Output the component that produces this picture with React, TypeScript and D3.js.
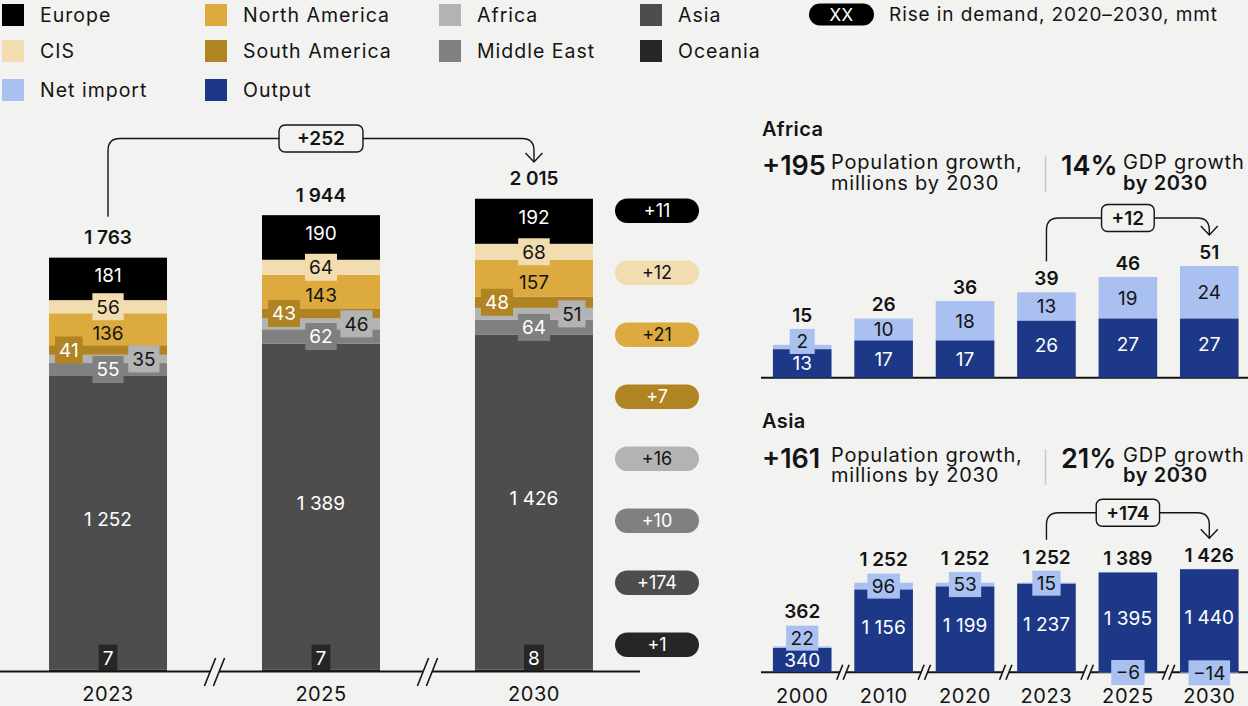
import React from 'react';
import * as d3 from 'd3';

const W = 1248;
const H = 706;
const FONT = "Inter, 'Open Sans', sans-serif";
const BG = '#f2f2f0';
const INK = '#141414';

// ---- Global demand by region (mmt) ----
const years = ['2023', '2025', '2030'];
const europe = [181, 190, 192];
const cis = [56, 64, 68];
const northAmerica = [136, 143, 157];
const southAmerica = [41, 43, 48];
const africa = [35, 46, 51];
const middleEast = [55, 62, 64];
const asia = [1252, 1389, 1426];
const oceania = [7, 7, 8];
const totals = [1763, 1944, 2015];
const totalRise = '+252';

// rise in demand per region, Europe → Oceania
const riseLabels = ['+11', '+12', '+21', '+7', '+16', '+10', '+174', '+1'];

// ---- Regional balance: output and net import (mmt) ----
const panelYears = ['2000', '2010', '2020', '2023', '2025', '2030'];
const africaOutput = [13, 17, 17, 26, 27, 27];
const africaImport = [2, 10, 18, 13, 19, 24];
const africaTotals = [15, 26, 36, 39, 46, 51];
const africaRise = '+12';
const africaPop = '+195';
const africaGdp = '14%';

const asiaOutput = [340, 1156, 1199, 1237, 1395, 1440];
const asiaImport = [22, 96, 53, 15, -6, -14];
const asiaTotals = [362, 1252, 1252, 1252, 1389, 1426];
const asiaRise = '+174';
const asiaPop = '+161';
const asiaGdp = '21%';

const regionKeys = ['Oceania', 'Asia', 'Middle East', 'Africa', 'South America', 'North America', 'CIS', 'Europe'];

const COLORS: Record<string, string> = {
  Europe: '#000000',
  CIS: '#f2ddb1',
  'North America': '#dcaa3e',
  'South America': '#b18423',
  Africa: '#b3b3b3',
  'Middle East': '#808080',
  Asia: '#4d4d4d',
  Oceania: '#262626',
  'Net import': '#a9c0f1',
  Output: '#1e3888',
};

// how each segment value is shown inside the stacked bar
const LABEL_STYLE: Record<string, { mode: string; color: string; dy?: number }> = {
  Europe: { mode: 'text', color: '#fff', dy: -4 },
  CIS: { mode: 'center', color: INK },
  'North America': { mode: 'text', color: INK, dy: 3.5 },
  'South America': { mode: 'left', color: '#fff' },
  Africa: { mode: 'right', color: INK },
  'Middle East': { mode: 'center', color: '#fff' },
  Asia: { mode: 'text', color: '#fff', dy: -4 },
  Oceania: { mode: 'bottom', color: '#fff' },
};

const pillOrder = ['Europe', 'CIS', 'North America', 'South America', 'Africa', 'Middle East', 'Asia', 'Oceania'];
const darkText = new Set(['Europe', 'South America', 'Middle East', 'Asia', 'Oceania']);

const fmt = d3.formatLocale({ decimal: '.', thousands: ' ', grouping: [3], currency: ['', ''] }).format(',');

const measureCtx = typeof document !== 'undefined' ? document.createElement('canvas').getContext('2d') : null;
function measure(s: string, size: number, weight = 400) {
  if (!measureCtx) return s.length * size * 0.6;
  measureCtx.font = `${weight} ${size}px ${FONT}`;
  return measureCtx.measureText(s).width;
}

function T({ x, y, children, size = 19, weight = 400, fill = INK, anchor = 'middle', ls = 0 }: any) {
  return (
    <text
      x={x}
      y={y}
      dy="0.36em"
      fontSize={size}
      fontWeight={weight}
      fill={fill}
      textAnchor={anchor}
      fontFamily={FONT}
      letterSpacing={ls || undefined}
    >
      {children}
    </text>
  );
}

// two-line caption drawn as a single text block
function Caption({ x, y, line1, line2, w2 = 400 }: any) {
  return (
    <text x={x} y={y} dy="0.36em" fontSize={20} fill={INK} fontFamily={FONT} letterSpacing={0.8}>
      <tspan x={x}>{line1}</tspan>
      <tspan x={x} dy={20.5} fontWeight={w2} letterSpacing={w2 > 400 ? 0.6 : 0.8}>{line2}</tspan>
    </text>
  );
}

function connectorPath(x1: number, y1: number, x2: number, y2: number, yTop: number, r = 12) {
  return `M${x1},${y1} V${yTop + r} Q${x1},${yTop} ${x1 + r},${yTop} H${x2 - r} Q${x2},${yTop} ${x2},${yTop + r} V${y2}`;
}

function Connector({ x1, y1, x2, y2, yTop, label, pad }: any) {
  const tw = measure(label, 19, 600);
  const pw = tw + pad * 2;
  const cx = (x1 + x2) / 2;
  return (
    <g>
      <path d={connectorPath(x1, y1, x2, y2, yTop)} fill="none" stroke={INK} strokeWidth={1.4} />
      <path d={`M${x2 - 8.5},${y2 - 9} L${x2},${y2} L${x2 + 8.5},${y2 - 9}`} fill="none" stroke={INK} strokeWidth={1.4} />
      <rect x={cx - pw / 2} y={yTop - 13.5} width={pw} height={27} rx={6} fill={BG} stroke={INK} strokeWidth={1.4} />
      <T x={cx} y={yTop} weight={600}>{label}</T>
    </g>
  );
}

function BreakMark({ x, y, h, gap }: any) {
  const s = h * 0.2;
  return (
    <g>
      <polygon
        points={`${x - gap - s},${y + h / 2} ${x - gap + s},${y - h / 2} ${x + gap + s},${y - h / 2} ${x + gap - s},${y + h / 2}`}
        fill={BG}
      />
      <line x1={x - gap - s} y1={y + h / 2} x2={x - gap + s} y2={y - h / 2} stroke={INK} strokeWidth={1.6} />
      <line x1={x + gap - s} y1={y + h / 2} x2={x + gap + s} y2={y - h / 2} stroke={INK} strokeWidth={1.6} />
    </g>
  );
}

function Panel({ titleY, title, pop, gdp, output, imports, totalsArr, yScale, baseY, rise, riseY, showAxis }: any) {
  const x = d3.scaleBand<string>().domain(panelYears).range([761.5, 1250]).paddingInner(0.28).paddingOuter(0.14);
  const bw = x.bandwidth();
  const y0 = yScale(0);
  const labelTops: number[] = [];
  const bars = panelYears.map((yr, i) => {
    const xb = x(yr)!;
    const cx = xb + bw / 2;
    const out = output[i];
    const imp = imports[i];
    const outTop = yScale(out);
    const impA = imp >= 0 ? out : 0;
    const impB = imp >= 0 ? out + imp : imp;
    const iy1 = yScale(Math.max(impA, impB));
    const iy2 = yScale(Math.min(impA, impB));
    const segH = y0 - outTop;
    const outY = (outTop + y0) / 2 - (segH > 50 ? 4 : 0);
    const impMid = (iy1 + iy2) / 2;
    const impStr = fmt(imp);
    const boxed = iy2 - iy1 < 20;
    const boxH = 25;
    const boxW = Math.max(measure(impStr, 19) + 9, 25);
    const boxCy = boxed && imp > 0 ? Math.min(impMid, outY - 22) : impMid;
    const barTop = Math.min(outTop, iy1);
    const top = boxed ? Math.min(barTop, boxCy - boxH / 2) : barTop;
    const totalY = top - 14;
    labelTops.push(totalY);
    return (
      <g key={yr}>
        <rect x={xb} y={iy1} width={bw} height={Math.max(iy2 - iy1, 0.01)} fill={COLORS['Net import']} />
        <rect x={xb} y={outTop} width={bw} height={y0 - outTop} fill={COLORS.Output} />
        <T x={cx} y={outY} fill="#fff">{fmt(out)}</T>
        {boxed ? (
          <g>
            <rect x={cx - boxW / 2} y={boxCy - boxH / 2} width={boxW} height={boxH} fill={COLORS['Net import']} />
            <T x={cx} y={boxCy}>{impStr}</T>
          </g>
        ) : (
          <T x={cx} y={impMid}>{impStr}</T>
        )}
        <T x={cx} y={totalY} weight={600}>{fmt(totalsArr[i])}</T>
        {showAxis && <T x={cx} y={baseY + 23} size={20} ls={0.6}>{yr}</T>}
      </g>
    );
  });
  const breaks = showAxis
    ? panelYears.slice(1).map((yr, i) => {
        const xa = x(panelYears[i])! + bw;
        const xb = x(yr)!;
        return <BreakMark key={yr} x={(xa + xb) / 2} y={baseY} h={15} gap={3.2} />;
      })
    : null;
  const c1 = x('2023')! + bw / 2;
  const c2 = x('2030')! + bw / 2;
  return (
    <g>
      <T x={762} y={titleY} anchor="start" size={20} weight={600} ls={0.4}>{title}</T>
      <T x={762} y={titleY + 37} anchor="start" size={27} weight={600}>{pop}</T>
      <Caption x={831} y={titleY + 33.5} line1="Population growth," line2="millions by 2030" />
      <line x1={1045.5} x2={1045.5} y1={titleY + 28} y2={titleY + 64} stroke="#c9c9c9" strokeWidth={1.5} />
      <T x={1061} y={titleY + 37} anchor="start" size={27} weight={600}>{gdp}</T>
      <Caption x={1123} y={titleY + 33.5} line1="GDP growth" line2="by 2030" w2={600} />
      <line x1={761} x2={1248} y1={baseY} y2={baseY} stroke={INK} strokeWidth={2} />
      {bars}
      {breaks}
      <Connector x1={c1} y1={labelTops[3] - 17} x2={c2} y2={labelTops[5] - 17} yTop={riseY} label={rise} pad={10} />
    </g>
  );
}

export default function App() {
  const rows = years.map((yr, i) => ({
    year: yr,
    Oceania: oceania[i],
    Asia: asia[i],
    'Middle East': middleEast[i],
    Africa: africa[i],
    'South America': southAmerica[i],
    'North America': northAmerica[i],
    CIS: cis[i],
    Europe: europe[i],
  }));
  const series = d3.stack<any>().keys(regionKeys)(rows);
  const xL = d3.scaleBand<string>().domain(years).range([1, 641]).paddingInner(0.446).paddingOuter(0.2255);
  const yL = d3.scaleLinear().domain([0, 2015]).range([671.5, 198.5]);
  const bw = xL.bandwidth();

  const segments: any[] = [];
  const labels: any[] = [];
  series.forEach((s) => {
    const key = s.key;
    s.forEach((d, i) => {
      const yr = years[i];
      const xb = xL(yr)!;
      const yt = yL(d[1]);
      const yb = yL(d[0]);
      segments.push(<rect key={key + yr} x={xb} y={yt} width={bw} height={yb - yt} fill={COLORS[key]} />);
      const v = d[1] - d[0];
      const str = fmt(v);
      const st = LABEL_STYLE[key];
      const cx = xb + bw / 2;
      const mid = (yt + yb) / 2;
      if (st.mode === 'text') {
        labels.push(<T key={'l' + key + yr} x={cx} y={mid + (st.dy || 0)} fill={st.color}>{str}</T>);
      } else {
        const bwid = Math.max(measure(str, 19) + 8, 18);
        const bh = 27;
        let bx = cx - bwid / 2;
        let by = mid - bh / 2;
        if (st.mode === 'left') bx = xb + 6;
        if (st.mode === 'right') bx = xb + bw - 7.5 - bwid;
        if (st.mode === 'bottom') by = yL(0) - bh;
        labels.push(
          <g key={'l' + key + yr}>
            <rect x={bx} y={by} width={bwid} height={bh} fill={COLORS[key]} />
            <T x={bx + bwid / 2} y={by + bh / 2} fill={st.color}>{str}</T>
          </g>
        );
      }
    });
  });

  const totalLabelY = totals.map((t) => yL(t) - 20.5);
  const c0 = xL('2023')! + bw / 2;
  const c2 = xL('2030')! + bw / 2;

  const legendItems = [
    { name: 'Europe', x: 2, y: 15 },
    { name: 'North America', x: 205, y: 15 },
    { name: 'Africa', x: 439, y: 15 },
    { name: 'Asia', x: 640, y: 15 },
    { name: 'CIS', x: 2, y: 51 },
    { name: 'South America', x: 205, y: 51 },
    { name: 'Middle East', x: 439, y: 51 },
    { name: 'Oceania', x: 640, y: 51 },
    { name: 'Net import', x: 2, y: 90 },
    { name: 'Output', x: 205, y: 90 },
  ];

  const asiaY = d3.scaleLinear().domain([0, 1440]).range([672.3, 569.2]);
  const africaY = d3.scaleLinear().domain([0, 51]).range([377.7, 266]);

  return (
    <svg width={W} height={H} style={{ position: 'absolute', left: 0, top: 0, background: BG, display: 'block' }}>
      <rect x={0} y={0} width={W} height={H} fill={BG} />

      {/* legend */}
      {legendItems.map((it) => (
        <g key={it.name}>
          <rect x={it.x} y={it.y - 11} width={22} height={22} fill={COLORS[it.name]} />
          <T x={it.x + 38} y={it.y} anchor="start" size={19.5} ls={1}>{it.name}</T>
        </g>
      ))}
      <rect x={809} y={3.5} width={65} height={22} rx={11} fill="#000" />
      <T x={841.5} y={14.5} fill="#fff" size={17} ls={0.5}>XX</T>
      <T x={889} y={14.5} anchor="start" size={19} ls={0.9}>Rise in demand, 2020–2030, mmt</T>

      {/* stacked demand bars */}
      {segments}
      {labels}
      {years.map((yr, i) => (
        <T key={'t' + yr} x={xL(yr)! + bw / 2} y={totalLabelY[i]} weight={600}>{fmt(totals[i])}</T>
      ))}
      <line x1={0} x2={640} y1={671.5} y2={671.5} stroke={INK} strokeWidth={2} />
      {years.slice(1).map((yr, i) => {
        const xa = xL(years[i])! + bw;
        const xb = xL(yr)!;
        return <BreakMark key={'b' + yr} x={(xa + xb) / 2} y={672} h={28} gap={4.5} />;
      })}
      {years.map((yr) => (
        <T key={'x' + yr} x={xL(yr)! + bw / 2} y={694} size={20} ls={0.5}>{yr}</T>
      ))}
      <Connector x1={c0} y1={totalLabelY[0] - 20.5} x2={c2} y2={totalLabelY[2] - 16} yTop={138.5} label={totalRise} pad={18} />

      {/* rise pills */}
      {pillOrder.map((k, i) => (
        <g key={'p' + k}>
          <rect x={615} y={198.5 + i * 62} width={84} height={24.5} rx={12.25} fill={COLORS[k]} />
          <T x={657} y={210.75 + i * 62} size={18} fill={darkText.has(k) ? '#fff' : INK}>{riseLabels[i]}</T>
        </g>
      ))}

      <Panel
        titleY={128.5}
        title="Africa"
        pop={africaPop}
        gdp={africaGdp}
        output={africaOutput}
        imports={africaImport}
        totalsArr={africaTotals}
        yScale={africaY}
        baseY={377.7}
        rise={africaRise}
        riseY={218}
        showAxis={false}
      />
      <Panel
        titleY={421}
        title="Asia"
        pop={asiaPop}
        gdp={asiaGdp}
        output={asiaOutput}
        imports={asiaImport}
        totalsArr={asiaTotals}
        yScale={asiaY}
        baseY={672.3}
        rise={asiaRise}
        riseY={512.7}
        showAxis={true}
      />
    </svg>
  );
}
